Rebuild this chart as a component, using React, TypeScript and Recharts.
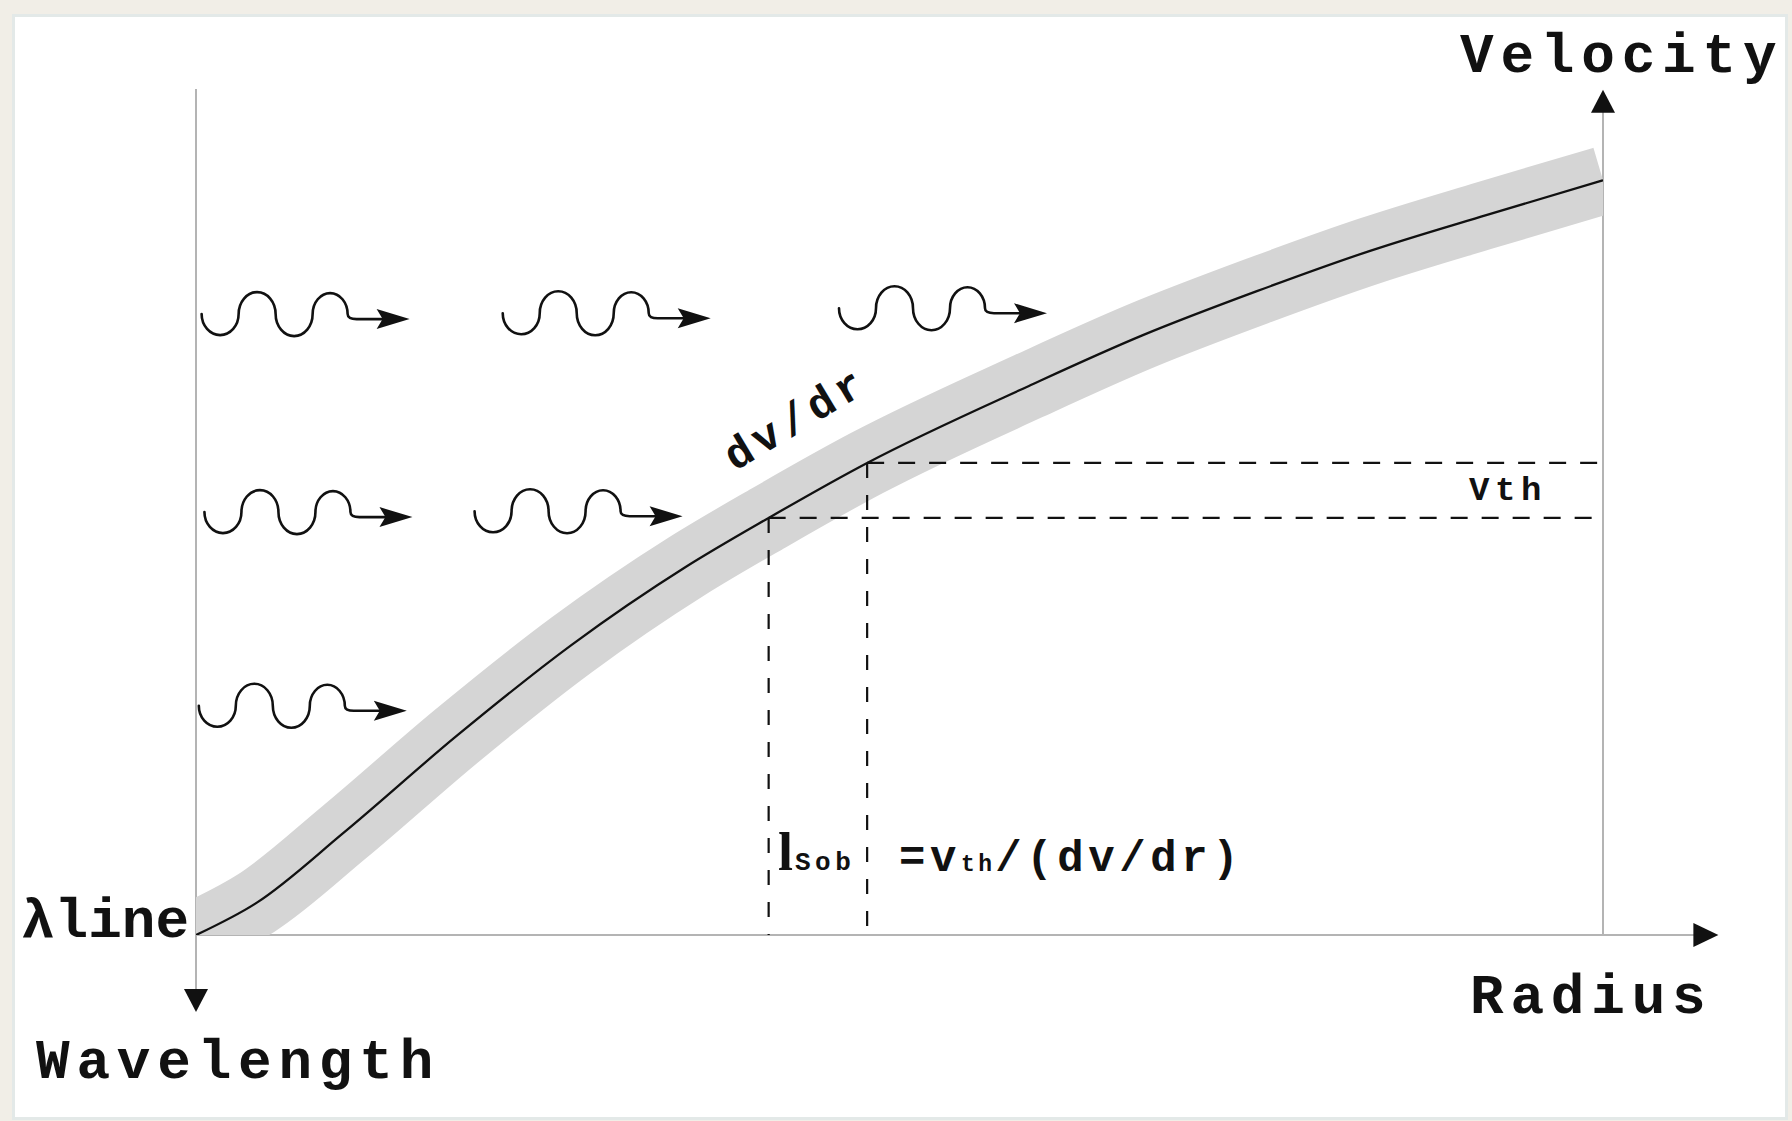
import React from 'react';
import { LineChart, Line, XAxis, YAxis, ReferenceLine, ReferenceDot } from 'recharts';

// Velocity law v(r): radius and velocity in arbitrary units (0..100)
const radius = [0, 4.3, 10.5, 18.5, 26.7, 34.8, 40.7, 47.7, 59.2, 67.3, 75.4, 83.5, 91.7, 100];
const velocity = [0, 3.8, 12.1, 23.5, 34.3, 43.5, 49.3, 55.8, 64.9, 70.9, 76.1, 80.9, 85.1, 89.2];

// the two curve points that bound the Sobolev length (velocity step = v_th)
const sobolevIdx = [6, 7];

// photons travelling outward (start of each wavy arrow)
const photonR = [0.4, 21.8, 45.7, 0.6, 19.8, 0.2];
const photonV = [72.8, 72.9, 73.5, 49.4, 49.5, 26.5];

const curve = radius.map((r, i) => ({ r, v: velocity[i] }));

const MONO = "'Liberation Mono', 'Courier New', monospace";
const INK = '#111111';
const AXIS = '#b4b4b4';

// photon glyph: trough, crest, trough, crest as round lobes, then a straight tail
const WAVE_PATH =
  'M 0 -5 A 18.5 21 0 0 0 37 -5 A 18.5 22 0 0 1 74 -5 A 18.5 22 0 0 0 111 -5 A 17.5 21 0 0 1 146 -5 Q 146 0 155 0 L 184 0';

const WaveArrow = ({ cx, cy }: { cx: number; cy: number }) => (
  <g transform={`translate(${cx},${cy})`}>
    <path d={WAVE_PATH} fill="none" stroke={INK} strokeWidth={2.6} strokeLinecap="round" strokeLinejoin="round" />
    <path d="M 208 0 L 175 -10 L 181 0 L 175 10 Z" fill={INK} />
  </g>
);

const Label = ({ cx, cy, text, size, ls = 0, anchor = 'start', rotate = 0, family = MONO, baseline }: any) => (
  <text
    x={cx}
    y={cy}
    fontFamily={family}
    fontWeight="bold"
    fontSize={size}
    letterSpacing={ls}
    textAnchor={anchor}
    dominantBaseline={baseline}
    fill={INK}
    transform={rotate ? `rotate(${rotate} ${cx} ${cy})` : undefined}
  >
    {text}
  </text>
);

const Formula = ({ cx, cy }: any) => (
  <text x={cx} y={cy} fontFamily={MONO} fontWeight="bold" fill={INK}>
    <tspan fontSize={44} letterSpacing={4.6}>=v</tspan>
    <tspan fontSize={23} letterSpacing={3.4}>th</tspan>
    <tspan fontSize={44} letterSpacing={4.6}>/(dv/dr)</tspan>
  </text>
);

const ArrowUp = ({ cx, cy }: any) => (
  <path d={`M ${cx} ${cy} L ${cx - 12} ${cy + 23} L ${cx + 12} ${cy + 23} Z`} fill={INK} />
);
const ArrowDown = ({ cx, cy }: any) => (
  <path d={`M ${cx} ${cy} L ${cx - 12} ${cy - 23} L ${cx + 12} ${cy - 23} Z`} fill={INK} />
);
const ArrowRight = ({ cx, cy }: any) => (
  <path d={`M ${cx} ${cy} L ${cx - 25} ${cy - 12} L ${cx - 25} ${cy + 12} Z`} fill={INK} />
);

export default function App() {
  const [lo, hi] = sobolevIdx.map((i) => curve[i]);
  return (
    <div
      style={{
        position: 'absolute',
        left: 0,
        top: 0,
        width: 1792,
        height: 1121,
        background: '#f1eee7',
        overflow: 'hidden',
      }}
    >
      <div
        style={{
          position: 'absolute',
          left: 12,
          top: 14,
          width: 1770,
          height: 1100,
          background: '#ffffff',
          border: '3px solid #e3e9e8',
        }}
      />
      <div style={{ position: 'absolute', left: 0, top: 0 }}>
        <LineChart
          width={1792}
          height={1121}
          data={curve}
          margin={{ top: 89, left: 196, right: 189, bottom: 186 }}
        >
          <XAxis dataKey="r" type="number" domain={[0, 100]} hide allowDataOverflow />
          <YAxis type="number" domain={[0, 100]} hide allowDataOverflow />

          {/* axes */}
          <ReferenceLine segment={[{ x: 0, y: 100 }, { x: 0, y: -6.5 }]} stroke={AXIS} strokeWidth={2} ifOverflow="visible" />
          <ReferenceLine segment={[{ x: 0, y: 0 }, { x: 106.5, y: 0 }]} stroke={AXIS} strokeWidth={2} ifOverflow="visible" />
          <ReferenceLine segment={[{ x: 100, y: 0 }, { x: 100, y: 97.3 }]} stroke={AXIS} strokeWidth={2} ifOverflow="visible" />

          {/* thermal-width band around the velocity law */}
          <Line dataKey="v" type="monotone" stroke="#d5d5d5" strokeWidth={68} dot={false} activeDot={false} isAnimationActive={false} />
          <Line dataKey="v" type="monotone" stroke={INK} strokeWidth={2.3} dot={false} activeDot={false} isAnimationActive={false} />

          {/* Sobolev construction */}
          <ReferenceLine segment={[{ x: hi.r, y: hi.v }, { x: 100, y: hi.v }]} stroke={INK} strokeWidth={2.2} strokeDasharray="17 14" ifOverflow="visible" />
          <ReferenceLine segment={[{ x: lo.r, y: lo.v }, { x: 99.7, y: lo.v }]} stroke={INK} strokeWidth={2.2} strokeDasharray="17 14" ifOverflow="visible" />
          <ReferenceLine segment={[{ x: lo.r, y: lo.v }, { x: lo.r, y: 0 }]} stroke={INK} strokeWidth={2.2} strokeDasharray="15 17" ifOverflow="visible" />
          <ReferenceLine segment={[{ x: hi.r, y: hi.v }, { x: hi.r, y: 0 }]} stroke={INK} strokeWidth={2.2} strokeDasharray="15 17" ifOverflow="visible" />

          {/* photons */}
          {photonR.map((r, i) => (
            <ReferenceDot key={`ph${i}`} x={r} y={photonV[i]} ifOverflow="visible" shape={(p: any) => <WaveArrow cx={p.cx} cy={p.cy} />} />
          ))}

          {/* axis arrowheads */}
          <ReferenceDot x={100} y={99.9} ifOverflow="visible" shape={(p: any) => <ArrowUp cx={p.cx} cy={p.cy} />} />
          <ReferenceDot x={0} y={-9.1} ifOverflow="visible" shape={(p: any) => <ArrowDown cx={p.cx} cy={p.cy} />} />
          <ReferenceDot x={108.2} y={0} ifOverflow="visible" shape={(p: any) => <ArrowRight cx={p.cx} cy={p.cy} />} />

          {/* axis titles and annotations */}
          <ReferenceDot x={89.84} y={102} ifOverflow="visible" shape={(p: any) => <Label cx={p.cx} cy={p.cy} text="Velocity" size={56} ls={6.8} />} />
          <ReferenceDot x={90.55} y={-9.22} ifOverflow="visible" shape={(p: any) => <Label cx={p.cx} cy={p.cy} text="Radius" size={56} ls={6.8} />} />
          <ReferenceDot x={-11.37} y={-16.9} ifOverflow="visible" shape={(p: any) => <Label cx={p.cx} cy={p.cy} text="Wavelength" size={56} ls={6.8} />} />
          <ReferenceDot x={-12.44} y={-0.24} ifOverflow="visible" shape={(p: any) => <Label cx={p.cx} cy={p.cy} text="λline" size={56} />} />
          <ReferenceDot x={90.48} y={51.42} ifOverflow="visible" shape={(p: any) => <Label cx={p.cx} cy={p.cy} text="Vth" size={34} ls={5.6} />} />
          <ReferenceDot x={42.71} y={60.87} ifOverflow="visible" shape={(p: any) => <Label cx={p.cx} cy={p.cy} text="dv/dr" size={44} ls={5.5} anchor="middle" baseline="central" rotate={-31} />} />
          <ReferenceDot x={41.36} y={7.68} ifOverflow="visible" shape={(p: any) => <Label cx={p.cx} cy={p.cy} text="l" size={54} family="'Liberation Serif', serif" />} />
          <ReferenceDot x={42.57} y={7.68} ifOverflow="visible" shape={(p: any) => <Label cx={p.cx} cy={p.cy} text="Sob" size={26} ls={4.5} />} />
          <ReferenceDot x={49.96} y={7.56} ifOverflow="visible" shape={(p: any) => <Formula cx={p.cx} cy={p.cy} />} />
        </LineChart>
      </div>
    </div>
  );
}
